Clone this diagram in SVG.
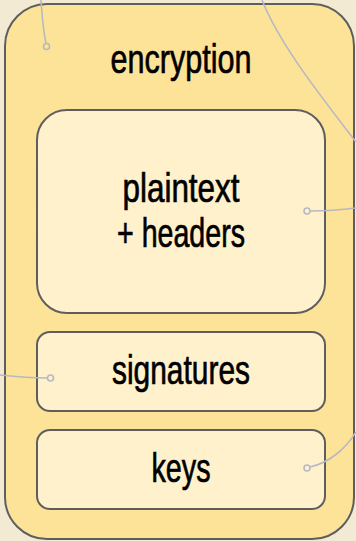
<svg xmlns="http://www.w3.org/2000/svg" width="356" height="541" viewBox="0 0 356 541">
<style>
.outer{fill:#fde398;stroke:#5e5e5e;stroke-width:2}
.inner{fill:#fff1cc;stroke:#5e5e5e;stroke-width:2}
.lbl{font-family:"Liberation Sans","DejaVu Sans",sans-serif;font-size:41px;fill:#000;stroke:#000;stroke-width:0.7;text-anchor:middle}
.edge{fill:none;stroke:#b6b9c3;stroke-width:1.6}
.dot{fill:#fff1cc;stroke:#b6b9c3;stroke-width:1.6}
</style>
<rect width="356" height="541" fill="#f3ead3"/>
<g id="encryption">
<rect class="outer" x="5" y="4" width="349" height="535" rx="42"/>
<text class="lbl" x="181" y="73" textLength="141" lengthAdjust="spacingAndGlyphs">encryption</text>
</g>
<g id="plaintext">
<rect class="inner" x="37" y="110" width="288" height="203" rx="30"/>
<text class="lbl" x="181" y="202" textLength="117" lengthAdjust="spacingAndGlyphs">plaintext</text>
<text class="lbl" x="181" y="247" textLength="128" lengthAdjust="spacingAndGlyphs">+ headers</text>
</g>
<g id="signatures">
<rect class="inner" x="37" y="332" width="288" height="79" rx="13"/>
<text class="lbl" x="181" y="384" textLength="138" lengthAdjust="spacingAndGlyphs">signatures</text>
</g>
<g id="keys">
<rect class="inner" x="37" y="430" width="288" height="79" rx="13"/>
<text class="lbl" x="181" y="482" textLength="59" lengthAdjust="spacingAndGlyphs">keys</text>
</g>
<g id="connectors">
<path class="edge" d="M41,0 C42,15 43,30 46,43"/>
<circle class="dot" cx="46.5" cy="46.5" r="3" style="fill:#fde398"/>
<path class="edge" d="M262,0 C280,45 320,95 356,142"/>
<path class="edge" d="M356,208 C340,210 322,211 310,211"/>
<circle class="dot" cx="307" cy="211" r="3"/>
<path class="edge" d="M0,375 C18,377 35,378 47,378"/>
<circle class="dot" cx="50.5" cy="378" r="3"/>
<path class="edge" d="M356,432 C345,450 328,463 310,467"/>
<circle class="dot" cx="307" cy="468" r="3"/>
</g>
</svg>
